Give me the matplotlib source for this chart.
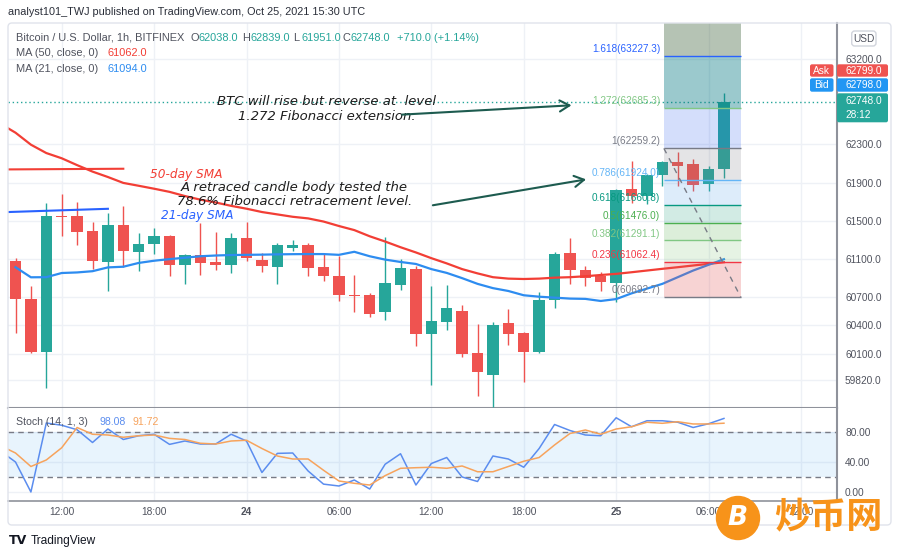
import numpy as np
import matplotlib.pyplot as plt
from matplotlib.patches import FancyBboxPatch, Circle

plt.rcParams['font.family'] = ['Liberation Sans', 'DejaVu Sans']

# ---- BTC/USD 1h candles, Oct 23 09:00 -> Oct 25 07:00 (bar index 0..46) ----
opens = [61074, 60677, 60122, 61549, 61549, 61386, 61061, 61455, 61166, 61253, 61333, 61033,
         61141, 61061, 61033, 61312, 61085, 61015, 61208, 61245, 61009, 60921, 60722, 60716,
         60544, 60824, 60991, 60303, 60439, 60554, 60111, 59874, 60422, 60317, 60115, 60663,
         61158, 60984, 60921, 60844, 61836, 61758, 61975, 62118, 62090, 61888, 62038]
highs = [61109, 60810, 61682, 61776, 61700, 61490, 61585, 61654, 61368, 61417, 61345, 61150,
         61472, 61381, 61368, 61490, 61158, 61260, 61295, 61263, 61148, 61130, 60931, 60736,
         61323, 61095, 61019, 60816, 60823, 60614, 60408, 60439, 60572, 60330, 60753, 61165,
         61312, 61026, 60956, 61835, 62125, 61990, 62125, 62219, 62150, 62070, 62839]
lows = [60321, 60110, 59742, 61340, 61242, 60991, 60757, 61015, 60973, 61148, 60921, 60834,
        60931, 60984, 60949, 61078, 60956, 60834, 61183, 60921, 60868, 60653, 60544, 60485,
        60457, 60774, 60182, 59769, 60345, 60066, 59658, 59543, 60188, 59805, 60105, 60579,
        60834, 60816, 60764, 60649, 61689, 61679, 61863, 61863, 61811, 61811, 61951]
closes = [60674, 60115, 61549, 61535, 61375, 61075, 61455, 61176, 61256, 61333, 61033, 61141,
          61054, 61033, 61319, 61106, 61022, 61245, 61240, 60998, 60921, 60719, 60711, 60520,
          60841, 60999, 60303, 60443, 60583, 60094, 59909, 60405, 60313, 60122, 60666, 61151,
          60980, 60894, 60858, 61821, 61758, 61978, 62118, 62072, 61873, 62038, 62748]

# MA 50 starts one bar left of the visible range (index -1)
ma50 = [62520, 62424, 62298, 62210, 62155, 62083, 62015, 61958, 61896, 61866, 61835, 61802,
        61758, 61720, 61690, 61655, 61625, 61590, 61565, 61540, 61523, 61490, 61443, 61400,
        61335, 61280, 61220, 61165, 61105, 61050, 60990, 60945, 60905, 60890, 60886, 60890,
        60900, 60905, 60915, 60928, 60940, 60957, 60975, 60993, 61010, 61028, 61045, 61062]
ma21 = [61010, 60904, 60905, 60949, 60955, 60968, 61008, 61015, 61055, 61078, 61095, 61110,
        61125, 61133, 61138, 61140, 61142, 61145, 61147, 61148, 61148, 61140, 61172, 61125,
        61090, 61065, 61044, 60990, 60950, 60895, 60835, 60790, 60760, 60715, 60700, 60690,
        60680, 60677, 60655, 60675, 60735, 60785, 60835, 60905, 60975, 61035, 61094]

# Stochastic (14, 1, 3), index -1..46
stoch_k = [55, 40, 0, 92, 89, 83, 66, 84, 70, 75, 77, 63.5, 68, 64, 64, 77, 68, 26, 51.5, 52,
           28, 10.5, 8, 16, 4, 37, 51, 9.3, 38, 46, 20, 14, 48, 44, 33, 58, 90, 82, 76, 75,
           99, 87, 95, 95, 93, 86, 91, 98.08]
stoch_d = [62, 52, 34, 42.7, 59, 86, 77, 76, 73, 75, 76, 71.5, 70, 65, 64, 68, 69, 58, 48, 44,
           44, 29, 14.7, 11.6, 9.3, 21.8, 31.6, 32.4, 33, 31.6, 34.7, 27, 27, 34, 41, 46, 62.7,
           78, 82.7, 77, 84, 87, 93, 91.6, 93.7, 90.7, 90.7, 91.72]

# Fibonacci tool
fib_ratios = ['0', '0.236', '0.382', '0.5', '0.618', '0.786', '1', '1.272', '1.618']
fib_prices = [60692.7, 61062.4, 61291.1, 61476.0, 61660.8, 61924.0, 62259.2, 62685.3, 63227.3]
fib_start, fib_end = 42.1, 47.1

# hand drawn marker lines next to the MA labels
red_mark_x, red_mark_y = [-0.45, 7.0], [62038, 62045]
blue_mark_x, blue_mark_y = [-0.45, 6.0], [61590, 61624]

time_ticks = [3, 9, 15, 21, 27, 33, 39, 45, 51]
time_labels = ['12:00', '18:00', '24', '06:00', '12:00', '18:00', '25', '06:00', '12:00']
price_ticks = [59820, 60100, 60400, 60700, 61100, 61500, 61900, 62300, 63200]
stoch_ticks = [0, 40, 80]

ask, bid, last = 62799.0, 62798.0, 62748.0

GREEN = '#26a69a'
RED = '#ef5350'
GRID = '#eef1f6'
AXC = '#50535e'
SEP = '#8f929b'

W, H = 900, 558
fig = plt.figure(figsize=(9, 5.58), dpi=100)


def fx(px):
    return px / W


def fy(py):
    return 1 - py / H


ax = fig.add_axes([fx(8), fy(408), fx(837) - fx(8), fy(23) - fy(408)])
sax = fig.add_axes([fx(8), fy(500.7), fx(837) - fx(8), fy(408) - fy(500.7)], sharex=ax)

# ---- price pane ----
x = np.arange(len(opens))
o = np.array(opens)
c = np.array(closes)
col = np.where(c >= o, GREEN, RED)
ax.vlines(x, lows, highs, colors=col, lw=1, zorder=3)
ax.bar(x, np.maximum(np.abs(c - o), 12), bottom=np.minimum(o, c), width=0.74,
       color=col, lw=0, zorder=4)

ax.plot(np.arange(-1, len(ma50) - 1), ma50, color='#f23e35', lw=1.6, zorder=5)
ax.plot(x, ma21, color='#2d8cf0', lw=1.6, zorder=5)
ax.plot(red_mark_x, red_mark_y, color='#f23e35', lw=1.5, zorder=5)
ax.plot(blue_mark_x, blue_mark_y, color='#2962ff', lw=1.5, zorder=5)

ax.axhline(last, color=GREEN, ls=(0, (1, 2)), lw=1, zorder=2)

# fibonacci fills (on top of the candles, translucent)
fill_cols = [('#e35353', 0.25), ('#82c378', 0.2), ('#50aa46', 0.2), ('#1e9b78', 0.2),
             ('#55a0e6', 0.2), ('#787882', 0.2), ('#285aeb', 0.2), ('#057882', 0.4)]
line_cols = ['#787b86', '#f23645', '#81c784', '#4caf50', '#089981', '#64b5f6', '#787b86',
             '#81c784', '#2962ff']
for k in range(len(fib_prices) - 1):
    fc, a = fill_cols[k]
    ax.fill_between([fib_start, fib_end], fib_prices[k], fib_prices[k + 1], color=fc,
                    alpha=a, lw=0, zorder=6)
ax.fill_between([fib_start, fib_end], fib_prices[-1], 64800, color='#486944', alpha=0.4,
                lw=0, zorder=6)
for r, p, lc in zip(fib_ratios, fib_prices, line_cols):
    ax.hlines(p, fib_start, fib_end, color=lc, lw=1, zorder=7)
    ax.text(fib_start - 0.25, p + 20, f'{r}({p:.1f})', color=lc, fontsize=7.2,
            ha='right', va='bottom', zorder=8)
ax.plot([fib_start, fib_end], [fib_prices[6], fib_prices[0]], color='#787b86',
        ls=(0, (4, 4)), lw=1, zorder=7)

# annotations
ann = dict(fontsize=9.5, style='italic', color='#1e1e1e', zorder=9, family='DejaVu Sans')
ax.text(20.2, 62676, 'BTC will rise but reverse at  level\n1.272 Fibonacci extension.',
        ha='center', va='center', linespacing=1.2, **ann)
ax.text(18.1, 61771, 'A retraced candle body tested the\n78.6% Fibonacci retracement level.',
        ha='center', va='center', linespacing=1.1, **ann)
ax.text(8.73, 61985, '50-day SMA', ha='left', va='center', fontsize=8.7, style='italic',
        color='#f23e35', zorder=9, family='DejaVu Sans')
ax.text(9.45, 61551, '21-day SMA', ha='left', va='center', fontsize=8.7, style='italic',
        color='#2962ff', zorder=9, family='DejaVu Sans')
arrow = dict(arrowstyle='->,head_length=0.7,head_width=0.4', color='#1d5b4f', lw=1.5,
             shrinkA=0, shrinkB=0)
ax.annotate('', xy=(36.1, 62712), xytext=(25.1, 62614), arrowprops=arrow, zorder=9)
ax.annotate('', xy=(37.05, 61933), xytext=(27.1, 61661), arrowprops=arrow, zorder=9)

ax.set_xlim(-0.487, 53.34)
ax.set_ylim(59530, 63577)
ax.set_yticks(price_ticks)
ax.set_yticklabels([f'{v:.1f}' for v in price_ticks])
ax.yaxis.tick_right()
ax.set_xticks(time_ticks)
ax.tick_params(axis='x', length=0, labelbottom=False)
ax.tick_params(axis='y', length=0, pad=5.8, labelsize=7.3, labelcolor=AXC)
ax.grid(color=GRID, lw=1, zorder=0)
ax.set_axisbelow(True)
for s in ['left', 'top']:
    ax.spines[s].set_visible(False)
ax.spines['right'].set_color(SEP)
ax.spines['right'].set_linewidth(1.5)
ax.spines['bottom'].set_color(SEP)
ax.spines['bottom'].set_linewidth(1.5)

# ---- stochastic pane ----
xs = np.arange(-1, len(stoch_k) - 1)
sax.fill_between([-2, 60], 20, 80, color='#2196f3', alpha=0.1, lw=0)
sax.axhline(80, color='#787b86', ls=(0, (4, 3)), lw=1)
sax.axhline(20, color='#787b86', ls=(0, (4, 3)), lw=1)
sax.plot(xs, stoch_k, color='#5b8def', lw=1.1)
sax.plot(xs, stoch_d, color='#f7a35c', lw=1.1)
sax.set_ylim(-11.6, 112)
sax.set_yticks(stoch_ticks)
sax.set_yticklabels([f'{v:.2f}' for v in stoch_ticks])
sax.yaxis.tick_right()
sax.set_xticks(time_ticks)
sax.set_xticklabels(time_labels)
sax.tick_params(axis='both', length=0, labelsize=7.3, labelcolor=AXC)
sax.tick_params(axis='y', pad=5.8)
sax.tick_params(axis='x', pad=4.5)
for lab in sax.get_xticklabels():
    if lab.get_text() in ('24', '25'):
        lab.set_fontweight('bold')
sax.grid(color=GRID, lw=1, zorder=0)
sax.set_axisbelow(True)
for s in ['left', 'top']:
    sax.spines[s].set_visible(False)
sax.spines['right'].set_color(SEP)
sax.spines['right'].set_linewidth(1.5)
sax.spines['bottom'].set_color(SEP)
sax.spines['bottom'].set_linewidth(1.2)

# ---- overlay in pixel coordinates for the TradingView chrome ----
ov = fig.add_axes([0, 0, 1, 1], zorder=20)
ov.set_xlim(0, W)
ov.set_ylim(H, 0)
ov.axis('off')

ov.add_patch(FancyBboxPatch((8, 23), 883, 502, boxstyle='round,pad=0,rounding_size=4',
                            fc='none', ec='#e0e3eb', lw=1))


def t(px, py, s, **kw):
    kw.setdefault('fontsize', 7.9)
    kw.setdefault('color', AXC)
    ov.text(px, py, s, va='center', ha=kw.pop('ha', 'left'), **kw)


t(8, 12, 'analyst101_TWJ published on TradingView.com, Oct 25, 2021 15:30 UTC',
  fontsize=7.8, color='#2a2e39')

t(16, 38, 'Bitcoin / U.S. Dollar, 1h, BITFINEX')
for lx, letter, val in [(190.7, 'O', opens[-1]), (242.3, 'H', highs[-1]),
                        (293.3, 'L', lows[-1]), (342.7, 'C', closes[-1])]:
    t(lx, 38, letter)
    t(lx + 8.2, 38, f'{val:.1f}', color=GREEN)
t(396.7, 38, '+710.0 (+1.14%)', color=GREEN)
t(16, 53, 'MA (50, close, 0)')
t(107, 53, f'{ma50[-1]:.1f}', color='#f23e35')
t(16, 69, 'MA (21, close, 0)')
t(107, 69, f'{ma21[-1]:.1f}', color='#2d8cf0')

t(16, 422, 'Stoch (14, 1, 3)', fontsize=7.6)
t(100, 422, f'{stoch_k[-1]:.2f}', color='#5b8def', fontsize=7.6)
t(132.7, 422, f'{stoch_d[-1]:.2f}', color='#f7a35c', fontsize=7.6)

# price axis tags
ov.add_patch(FancyBboxPatch((851.7, 31), 24.3, 15, boxstyle='round,pad=0,rounding_size=3',
                            fc='white', ec='#d1d4dc', lw=1))
t(863.8, 38.5, 'USD', ha='center', fontsize=7.3)
for ytop, hgt, colr, name, val in [(64.3, 12.4, RED, 'Ask', ask),
                                    (78.3, 13.4, '#2196f3', 'Bid', bid)]:
    ov.add_patch(FancyBboxPatch((810, ytop), 23.5, hgt, boxstyle='round,pad=0,rounding_size=2',
                                fc=colr, ec='none'))
    ov.add_patch(FancyBboxPatch((837, ytop), 51, hgt, boxstyle='round,pad=0,rounding_size=2',
                                fc=colr, ec='none'))
    t(821.7, ytop + hgt / 2, name, ha='center', color='white', fontsize=7.3)
    t(845, ytop + hgt / 2, f'{val:.1f}', color='white', fontsize=7.3)
ov.add_patch(FancyBboxPatch((837, 93.3), 51, 29, boxstyle='round,pad=0,rounding_size=2',
                            fc=GREEN, ec='none'))
t(845, 101.5, f'{last:.1f}', color='white', fontsize=7.3)
t(845, 115, '28:12', color='white', fontsize=7.3)

# TradingView footer
t(9, 541, 'TV', fontsize=9, fontweight='heavy', color='#131722', family='DejaVu Sans')
t(31, 541, 'TradingView', fontsize=8.6, color='#131722')

# watermark
ov.add_patch(Circle((738, 518), 21.5, color='#f7931a', zorder=5))
t(738, 518, 'B', ha='center', color='white', fontsize=19, fontweight='bold', style='italic',
  zorder=6, family='DejaVu Sans')
ov.text(828, 518, '炒币网', ha='center', va='center', fontsize=26, color='#f7931a',
        fontweight='bold', family=['Noto Sans CJK SC', 'DejaVu Sans'], zorder=6)

fig.savefig('out.png', dpi=100)
